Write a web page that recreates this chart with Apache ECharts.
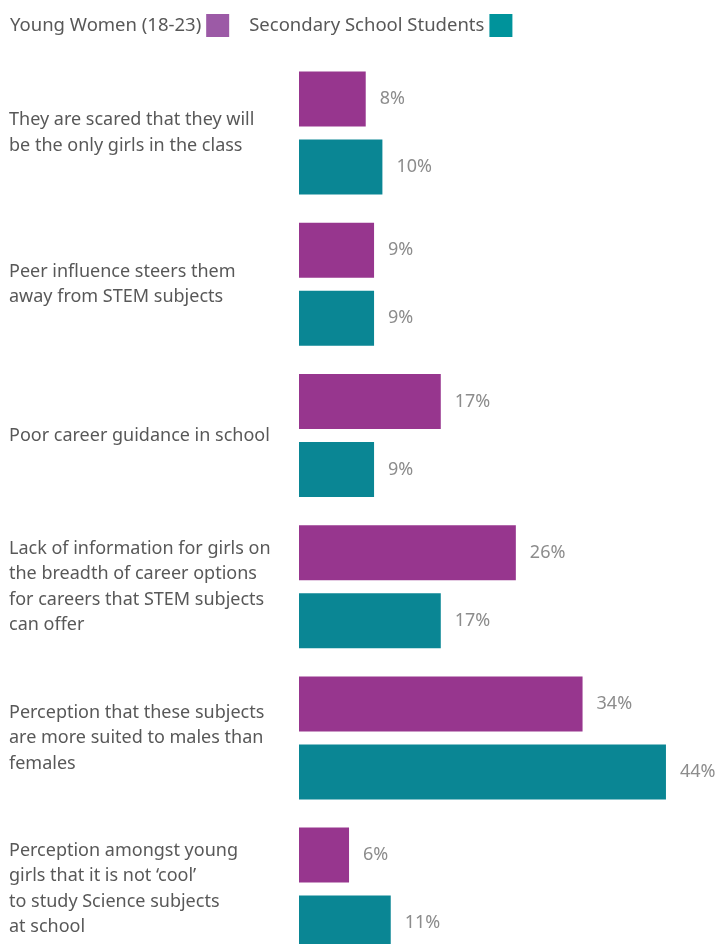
<!DOCTYPE html>
<html>
<head>
<meta charset="utf-8">
<style>
  html, body { margin: 0; padding: 0; background: #fff; }
  #chart { width: 720px; height: 944px; }
</style>
<script src="https://cdn.jsdelivr.net/npm/echarts@6/dist/echarts.min.js"></script>
</head>
<body>
<div id="chart"></div>
<script>
// Reasons given for girls not choosing STEM subjects (% of respondents)
const categories = [
  'They are scared that they will\nbe the only girls in the class',
  'Peer influence steers them\naway from STEM subjects',
  'Poor career guidance in school',
  'Lack of information for girls on\nthe breadth of career options\nfor careers that STEM subjects\ncan offer',
  'Perception that these subjects\nare more suited to males than\nfemales',
  'Perception amongst young\ngirls that it is not \u2018cool\u2019\nto study Science subjects\nat school'
];
const youngWomen = [8, 9, 17, 26, 34, 6];
const schoolStudents = [10, 9, 9, 17, 44, 11];
const seriesNames = ['Young Women (18-23)', 'Secondary School Students'];

const FONT = '"Noto Sans", sans-serif';
const chart = echarts.init(document.getElementById('chart'), null, { renderer: 'canvas' });

const valueLabel = {
  show: true,
  position: 'right',
  distance: 14,
  formatter: '{c}%',
  color: '#8c8c8c',
  fontFamily: FONT,
  fontSize: 18
};

chart.setOption({
  animation: false,
  backgroundColor: '#ffffff',
  legend: {
    left: 10,
    top: 14,
    padding: 0,
    align: 'right',
    itemWidth: 23,
    itemHeight: 23,
    itemGap: 20,
    icon: 'rect',
    textStyle: { color: '#585858', fontFamily: FONT, fontSize: 18.5 },
    data: [
      { name: seriesNames[0], itemStyle: { color: '#9c5aa6' } },
      { name: seriesNames[1], itemStyle: { color: '#00939b' } }
    ]
  },
  grid: {
    left: 299,
    right: 4,
    top: 57.5,
    height: 907.2,
    outerBoundsMode: 'none',
    containLabel: false
  },
  xAxis: {
    type: 'value',
    min: 0,
    max: 50,
    show: false
  },
  yAxis: {
    type: 'category',
    inverse: true,
    data: categories,
    axisLine: { show: false },
    axisTick: { show: false },
    splitLine: { show: false },
    axisLabel: {
      align: 'left',
      margin: 290,
      color: '#585858',
      fontFamily: FONT,
      fontSize: 18,
      lineHeight: 25.5
    }
  },
  series: [
    {
      name: seriesNames[0],
      type: 'bar',
      data: youngWomen,
      barWidth: 55,
      barGap: '23.6%',
      itemStyle: { color: '#97368e' },
      label: valueLabel
    },
    {
      name: seriesNames[1],
      type: 'bar',
      data: schoolStudents,
      barWidth: 55,
      itemStyle: { color: '#0a8694' },
      label: valueLabel
    }
  ]
});
</script>
</body>
</html>
